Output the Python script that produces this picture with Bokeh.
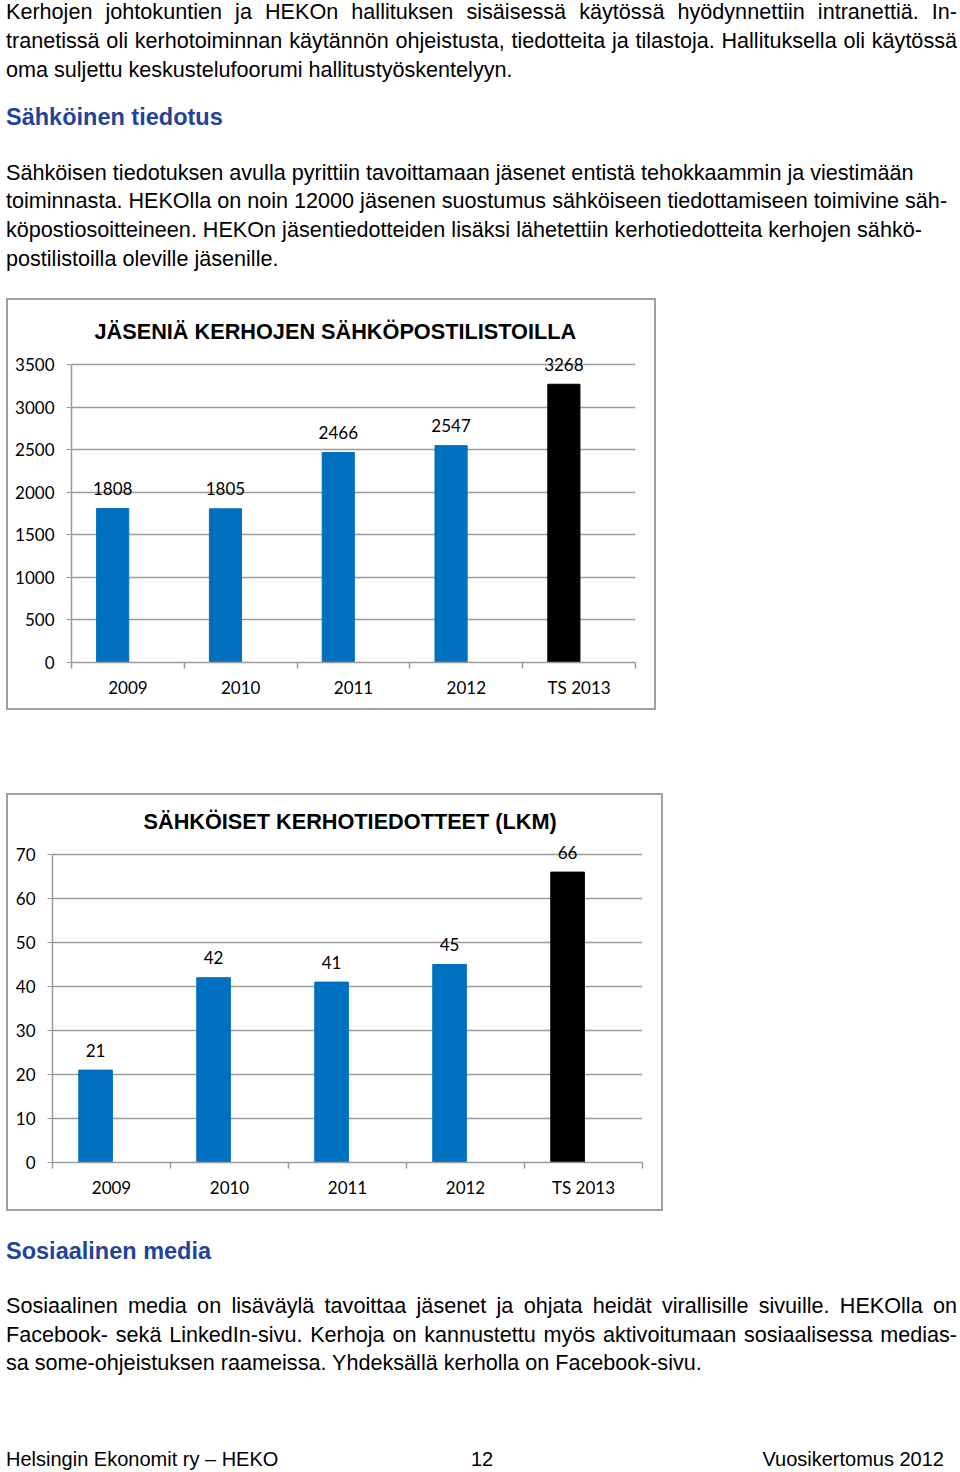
from bokeh.plotting import figure
from bokeh.models import (Div, Spacer, ColumnDataSource, Range1d, FixedTicker,
                          LabelSet, Title)
from bokeh.core.properties import value
from bokeh.layouts import column, row
from bokeh.embed import file_html
from bokeh.resources import INLINE

# ---------------- data ----------------
categories = ["2009", "2010", "2011", "2012", "TS 2013"]
members_on_lists = [1808, 1805, 2466, 2547, 3268]
club_bulletins = [21, 42, 41, 45, 66]
bar_colors = ["#0070C0", "#0070C0", "#0070C0", "#0070C0", "#000000"]
y_ticks_members = [0, 500, 1000, 1500, 2000, 2500, 3000, 3500]
y_ticks_bulletins = [0, 10, 20, 30, 40, 50, 60, 70]
title_members = "JÄSENIÄ KERHOJEN SÄHKÖPOSTILISTOILLA"
title_bulletins = "SÄHKÖISET KERHOTIEDOTTEET (LKM)"

TICK_FONT = "Lato"
GRID = "#9b9b9b"


def make_chart(cats, vals, yticks, title, w, h, bl, br, bt, bb, title_offset,
               title_standoff, headroom_px, frame_px):
    n = len(cats)
    centers = [i + 0.5 for i in range(n)]
    xs = [c - 0.135 for c in centers]
    src = ColumnDataSource(dict(x=xs, top=vals, color=bar_colors,
                                label=[str(v) for v in vals]))
    ymax = yticks[-1]
    # extra headroom above the top gridline so that data labels are not clipped
    yend = ymax * (frame_px + headroom_px) / frame_px
    p = figure(width=w, height=h, x_range=Range1d(0, n), y_range=Range1d(0, yend),
               output_backend="svg", toolbar_location=None,
               min_border_left=bl, min_border_right=br, min_border_top=bt, min_border_bottom=bb,
               background_fill_color=None, border_fill_color=None,
               outline_line_color=None,
               styles={"box-shadow": "inset 0 0 0 2px #a0a0a0", "background-color": "white"})
    p.vbar(x="x", top="top", width=0.285, color="color", source=src)
    p.add_layout(LabelSet(x="x", y="top", text="label", source=src, y_offset=20,
                          text_align="center", text_baseline="middle",
                          text_font=value(TICK_FONT), text_font_size=value("17px"),
                          text_color="#000000"))
    # y axis
    yax = p.yaxis[0]
    yax.ticker = FixedTicker(ticks=yticks)
    yax.bounds = (0, ymax)
    yax.axis_line_color = GRID
    yax.axis_line_width = 1.5
    yax.major_tick_line_color = GRID
    yax.major_tick_out = 5
    yax.major_tick_in = 0
    yax.minor_tick_line_color = None
    yax.major_label_standoff = 12
    yax.major_label_text_font = TICK_FONT
    yax.major_label_text_font_size = "17px"
    yax.major_label_text_color = "#000000"
    # x axis
    xax = p.xaxis[0]
    xax.ticker = FixedTicker(ticks=centers, minor_ticks=[float(i) for i in range(n + 1)])
    xax.major_label_overrides = {c: lab for c, lab in zip(centers, cats)}
    xax.axis_line_color = GRID
    xax.axis_line_width = 1.5
    xax.major_tick_line_color = None
    xax.major_tick_out = 0
    xax.major_tick_in = 0
    xax.minor_tick_line_color = GRID
    xax.minor_tick_line_width = 1.5
    xax.minor_tick_out = 6
    xax.minor_tick_in = 0
    xax.major_label_standoff = 8
    xax.major_label_text_font = TICK_FONT
    xax.major_label_text_font_size = "17px"
    xax.major_label_text_color = "#000000"
    # grid
    p.xgrid.visible = False
    p.ygrid.ticker = FixedTicker(ticks=yticks)
    p.ygrid.grid_line_color = GRID
    p.ygrid.grid_line_width = 1.5
    p.add_layout(Title(text=title, align="left", offset=title_offset, standoff=title_standoff,
                       text_font="Liberation Sans", text_font_size="21.7px",
                       text_font_style="bold", text_color="#000000"), "above")
    return p


chart1 = make_chart(categories, members_on_lists, y_ticks_members, title_members,
                    650, 412, 65, 21, 46, 48, 23, 2, 20, 298)
chart2 = make_chart(categories, club_bulletins, y_ticks_bulletins, title_bulletins,
                    657, 418, 46, 21, 41, 49, 91, 2, 20, 308)

BODY = "font-family:'Liberation Sans',Arial,sans-serif;font-size:21.6px;line-height:29px;color:#000;"
HEAD = ("font-family:'Liberation Sans',Arial,sans-serif;font-size:23.5px;line-height:29px;"
        "font-weight:bold;color:#1E449B;")


def line(text, top, justify=False, style=BODY, left=6, width=951):
    if justify:
        al = "text-align:justify;text-align-last:justify;white-space:nowrap;"
    else:
        al = "text-align:left;white-space:nowrap;"
    return (f'<div style="position:absolute;left:{left}px;top:{top}px;width:{width}px;'
            f'{style}{al}">{text}</div>')


top_html = "".join([
    line("Kerhojen johtokuntien ja HEKOn hallituksen sisäisessä käytössä hyödynnettiin intranettiä. In-", -2.6, True),
    line("tranetissä oli kerhotoiminnan käytännön ohjeistusta, tiedotteita ja tilastoja. Hallituksella oli käytössä", 25.6, True),
    line("oma suljettu keskustelufoorumi hallitustyöskentelyyn.", 54.6),
    line("Sähköinen tiedotus", 103.4, style=HEAD),
    line("Sähköisen tiedotuksen avulla pyrittiin tavoittamaan jäsenet entistä tehokkaammin ja viestimään", 157.6),
    line("toiminnasta. HEKOlla on noin 12000 jäsenen suostumus sähköiseen tiedottamiseen toimivine säh-", 185.6),
    line("köpostiosoitteineen. HEKOn jäsentiedotteiden lisäksi lähetettiin kerhotiedotteita kerhojen sähkö-", 214.6),
    line("postilistoilla oleville jäsenille.", 243.6),
])
top_div = Div(text=f'<div style="position:relative;width:960px;height:298px;">{top_html}</div>',
              width=960, height=298, margin=0)

FOOT = "font-family:'Liberation Sans',Arial,sans-serif;font-size:20px;line-height:29px;color:#000;"
bottom_html = "".join([
    line("Sosiaalinen media", 25.8, style=HEAD),
    line("Sosiaalinen media on lisäväylä tavoittaa jäsenet ja ohjata heidät virallisille sivuille. HEKOlla on", 79.6, True),
    line("Facebook- sekä LinkedIn-sivu. Kerhoja on kannustettu myös aktivoitumaan sosiaalisessa medias-", 108.6, True),
    line("sa some-ohjeistuksen raameissa. Yhdeksällä kerholla on Facebook-sivu.", 136.6),
    line("Helsingin Ekonomit ry – HEKO", 234.0, style=FOOT),
    f'<div style="position:absolute;left:432px;top:234px;width:100px;text-align:center;{FOOT}">12</div>',
    f'<div style="position:absolute;left:544px;top:234px;width:400px;text-align:right;{FOOT}">Vuosikertomus 2012</div>',
])
bottom_div = Div(text=f'<div style="position:relative;width:960px;height:261px;">{bottom_html}</div>',
                 width=960, height=261, margin=0)

layout = column(
    top_div,
    row(Spacer(width=6, height=412), chart1),
    Spacer(width=960, height=83),
    row(Spacer(width=6, height=418), chart2),
    bottom_div,
)

open("out.html", "w").write(file_html(layout, INLINE))
